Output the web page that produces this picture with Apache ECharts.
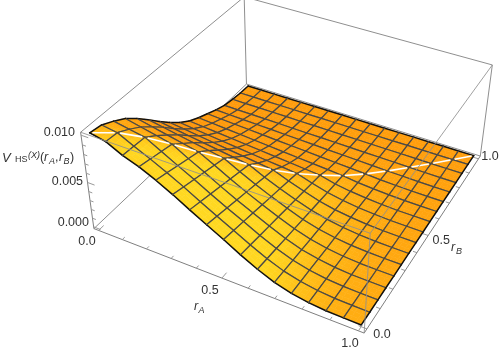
<!DOCTYPE html>
<html><head><meta charset="utf-8">
<style>html,body{margin:0;padding:0;background:#fff}#c{width:500px;height:352px}</style>
<script src="https://cdn.jsdelivr.net/npm/echarts@6/dist/echarts.min.js"></script>
</head><body><div id="c"></div>
<script>
// grid of the surface (rA, rB) and heights, in units of 1e-4
const rAValues = [0,0.0625,0.125,0.1875,0.25,0.3125,0.375,0.4375,0.5,0.5625,0.625,0.6875,0.75,0.8125,0.875,0.9375,1];
const rBValues = [0,0.0625,0.125,0.1875,0.25,0.3125,0.375,0.4375,0.5,0.5625,0.625,0.6875,0.75,0.8125,0.875,0.9375,1];
const heightRows = [
[101,99,93,86,76,65,53,42,32,24,18,13,8,4,2,.5,0],
[97.5,96.5,90,82.3,72.5,62,50.5,39.9,30.3,22.6,16.7,12,7.4,3.7,1.9,.5,0],
[89,88,87,78.7,69,59,48,37.7,28.5,21.1,15.5,11.1,6.8,3.4,1.7,.4,0],
[83,80.3,77.7,75,65.5,56,45.5,35.6,26.8,19.7,14.2,10.1,6.3,3.2,1.6,.4,0],
[75,71.8,68.5,65.3,62,53,43,33.4,25,18.2,13,9.2,5.7,2.9,1.5,.4,0],
[66,62.8,59.6,56.4,53.2,50,40.5,31.3,23.3,16.8,11.7,8.2,5.1,2.6,1.3,.3,0],
[56,53,50,47,44,41,38,29.1,21.5,15.3,10.4,7.3,4.5,2.3,1.2,.3,0],
[46.5,43.7,40.9,38.1,35.4,32.6,29.8,27,19.8,13.9,9.2,6.3,3.9,2.1,1.1,.3,0],
[37,34.6,32.3,29.9,27.5,25.1,22.8,20.4,18,12.4,7.9,5.4,3.3,1.8,.9,.2,0],
[27,25.2,23.4,21.7,19.9,18.1,16.3,14.6,12.8,11,6.7,4.4,2.8,1.5,.8,.2,0],
[18,16.7,15.5,14.2,13,11.7,10.4,9.2,7.9,6.7,5.4,3.5,2.2,1.2,.6,.2,0],
[10.5,9.8,9,8.3,7.6,6.9,6.2,5.4,4.7,4,3.2,2.5,1.6,.95,.5,.1,0],
[5.4,5.1,4.7,4.4,4,3.7,3.2,3,2.6,2.3,1.9,1.4,1,.7,.4,.1,0],
[2.3,2.2,2,1.9,1.7,1.6,1.4,1.3,1.2,1,.9,.7,.6,.4,.2,.1,0],
[.7,.65,.6,.55,.5,.5,.45,.4,.35,.3,.25,.2,.15,.15,.1,.05,0],
[.2,.19,.17,.16,.15,.13,.12,.11,.09,.08,.07,.05,.04,.03,.01,0,0],
[0,0,0,0,0,0,0,0,0,0,0,0,0,0,0,0,0]
];
const rATicks = [0,0.1,0.2,0.3,0.4,0.5,0.6,0.7,0.8,0.9,1];
const rBTicks = [0,0.1,0.2,0.3,0.4,0.5,0.6,0.7,0.8,0.9,1];
const zTicks = [0,0.001,0.002,0.003,0.004,0.005,0.006,0.007,0.008,0.009,0.01];
const rALabels = [[0,'0.0'],[0.5,'0.5'],[1,'1.0']];
const rBLabels = [[0,'0.0'],[0.5,'0.5'],[1,'1.0']];
const zLabels = [[0,'0.000'],[0.005,'0.005'],[0.01,'0.010']];
const rALabelOffsets=[[-11.6,11.6],[-12,12],[-8.5,13]];
const rBLabelOffsets=[[15,5.5],[13,5.5],[11.5,-1.8]];
const zLabelOffsets=[[-4.7,-3.9],[-4.5,-1],[-6,-2.2]];

// plot box range and view transform (homogeneous camera)
const R_MIN=-0.02,R_MAX=1.02,Z_MIN=-0.0002,Z_MAX=0.0103,Z_UNIT=1e-4;
const CAM={x:[233.9,203.2,-18.5,93.9],y:[71.2,-127.3,-104.9,228.6],w:[-0.0999,0.2055,-0.0646,1]};
const nr=v=>(v-R_MIN)/(R_MAX-R_MIN), nz=v=>(v-Z_MIN)/(Z_MAX-Z_MIN);
function projBox(a,b,c){
  const d=(m)=>m[0]*a+m[1]*b+m[2]*c+m[3];
  const w=d(CAM.w);return [d(CAM.x)/w,d(CAM.y)/w,w];
}
const proj=(ra,rb,z)=>projBox(nr(ra),nr(rb),nz(z));
const N=rAValues.length-1;
const Z=(i,j)=>heightRows[i][j]*Z_UNIT;
const vert=(i,j)=>proj(rAValues[i],rBValues[j],Z(i,j));

function vertexColor(i,j){
  const i0=Math.max(i-1,0),i1=Math.min(i+1,N),j0=Math.max(j-1,0),j1=Math.min(j+1,N);
  const sa=-(nz(Z(i1,j))-nz(Z(i0,j)))/(nr(rAValues[i1])-nr(rAValues[i0]));
  const sb=-(nz(Z(i,j1))-nz(Z(i,j0)))/(nr(rBValues[j1])-nr(rBValues[j0]));
  const G=Math.min(216,Math.max(122,158+14*(1-j/N)+40*sa-20*sb));
  const R=Math.min(255,246+(G-130)*0.35);
  const B=10+Math.max(0,G-150)*0.35;
  return [R,G,B];
}
const cells=[];
for(let i=0;i<N;i++)for(let j=0;j<N;j++){
  const w=(vert(i,j)[2]+vert(i+1,j)[2]+vert(i,j+1)[2]+vert(i+1,j+1)[2])/4;
  cells.push({i,j,w});
}
cells.sort((p,q)=>q.w-p.w);
const cellData=cells.map(c=>[c.i,c.j]);

const mix=(p,q,r,s,u,v)=>[0,1,2].map(k=>(1-u)*(1-v)*p[k]+u*(1-v)*q[k]+(1-u)*v*r[k]+u*v*s[k]);
const SUB=3;
function renderCell(params,api){
  const c=cells[params.dataIndex],i=c.i,j=c.j;
  const P=vert(i,j),Q=vert(i+1,j),R=vert(i,j+1),S=vert(i+1,j+1);
  const cP=vertexColor(i,j),cQ=vertexColor(i+1,j),cR=vertexColor(i,j+1),cS=vertexColor(i+1,j+1);
  const at=(u,v)=>{const m=mix(P,Q,R,S,u,v);return api.coord([m[0],m[1]]);};
  const kids=[];
  for(let a=0;a<SUB;a++)for(let b=0;b<SUB;b++){
    const col=mix(cP,cQ,cR,cS,(a+.5)/SUB,(b+.5)/SUB);
    const f=`rgb(${col[0]|0},${col[1]|0},${col[2]|0})`;
    kids.push({type:'polygon',shape:{points:[at(a/SUB,b/SUB),at((a+1)/SUB,b/SUB),at((a+1)/SUB,(b+1)/SUB),at(a/SUB,(b+1)/SUB)]},
      style:{fill:f,stroke:f,lineWidth:0.6}});
  }
  const edge=(A,B,onEdge)=>kids.push({type:'line',shape:{x1:api.coord(A)[0],y1:api.coord(A)[1],x2:api.coord(B)[0],y2:api.coord(B)[1]},
    style:{stroke:onEdge?'#111':'#484848',lineWidth:onEdge?1.5:1.2,lineCap:'round'}});
  edge(P,Q,j===0);edge(R,S,j+1===N);edge(P,R,i===0);edge(Q,S,i+1===N);
  return {type:'group',children:kids};
}
function segStyle(s){return {stroke:s.c||'#8f8f8f',lineWidth:s.lw||1,opacity:s.o==null?1:s.o};}
const lineRender=(list)=>(params,api)=>{
  const s=list[params.dataIndex];const A=api.coord(s.a),B=api.coord(s.b);
  return {type:'line',shape:{x1:A[0],y1:A[1],x2:B[0],y2:B[1]},style:segStyle(s)};
};
const bx=(a,b,c)=>projBox(a,b,c);
const backLines=[
 {a:bx(0,0,0),b:bx(0,1,0)},{a:bx(0,1,0),b:bx(1,1,0)},{a:bx(0,1,0),b:bx(0,1,1)}
];
const frontLines=[
 {a:bx(0,0,0),b:bx(1,0,0),c:'#7f7f7f'},{a:bx(1,0,0),b:bx(1,1,0),c:'#7f7f7f'},{a:bx(0,0,0),b:bx(0,0,1),c:'#7f7f7f'},
 {a:bx(0,0,1),b:bx(1,0,1),o:.85},{a:bx(1,0,1),b:bx(1,1,1),o:.85},{a:bx(1,0,0),b:bx(1,0,1),o:.85},
 {a:bx(0,0,1),b:bx(0,1,1)},{a:bx(0,1,1),b:bx(1,1,1)},{a:bx(1,1,0),b:bx(1,1,1)}
];
rATicks.forEach((t,k)=>{const L=k%5===0?.028:.014;frontLines.push({a:bx(nr(t),0,0),b:bx(nr(t),L,0),c:'#9a9a9a'});});
rBTicks.forEach((t,k)=>{const L=k%5===0?.028:.014;backLines.push({a:bx(1,nr(t),0),b:bx(1-L,nr(t),0),c:'#9a9a9a'});});
zTicks.forEach((t,k)=>{const L=k%5===0?.028:.014;frontLines.push({a:bx(0,0,nz(t)),b:bx(L,0,nz(t)),c:'#9a9a9a'});});
const whiteSegs=[];
for(let i=0;i<N;i++){
  const A=vert(i,i),B=vert(i+1,i+1);
  const g=.1;
  whiteSegs.push({a:[A[0]+(B[0]-A[0])*g,A[1]+(B[1]-A[1])*g],b:[A[0]+(B[0]-A[0])*(1-g),A[1]+(B[1]-A[1])*(1-g)],c:'#fff',lw:1.6});
}
const TXT={fontFamily:'"Liberation Sans",Arial,sans-serif',fontSize:12.5,fill:'#333'};
const texts=[];
rALabels.forEach((l,k)=>{const p=proj(l[0],R_MIN,Z_MIN),o=rALabelOffsets[k];texts.push({p:[p[0]+o[0],p[1]+o[1]],t:l[1],al:'center'});});
rBLabels.forEach((l,k)=>{const p=proj(R_MAX,l[0],Z_MIN),o=rBLabelOffsets[k];texts.push({p:[p[0]+o[0],p[1]+o[1]],t:l[1],al:'center'});});
zLabels.forEach((l,k)=>{const p=proj(R_MIN,R_MIN,l[0]),o=zLabelOffsets[k];texts.push({p:[p[0]+o[0],p[1]+o[1]],t:l[1],al:'right'});});
const IT={fontStyle:'italic'};
const rAT=[199,308],rBT=[457,250];
texts.push({p:[rAT[0]-3,rAT[1]-1],t:'r',al:'center',st:IT},{p:[rAT[0]+2.5,rAT[1]+2],t:'A',al:'center',st:{fontStyle:'italic',fontSize:9}});
texts.push({p:[rBT[0]-4,rBT[1]-2],t:'r',al:'center',st:IT},{p:[rBT[0]+2,rBT[1]+1],t:'B',al:'center',st:{fontStyle:'italic',fontSize:9}});
texts.push({p:[2,158],t:'V',al:'left',st:{fontStyle:'italic',fontSize:13}},
 {p:[15,160],t:'HS',al:'left',st:{fontSize:9}},
 {p:[28,155],t:'(X)',al:'left',st:{fontStyle:'italic',fontSize:9}},
 {p:[40,158],t:'(',al:'left'},{p:[44,158],t:'r',al:'left',st:IT},{p:[49,161],t:'A',al:'left',st:{fontStyle:'italic',fontSize:9}},
 {p:[55,158],t:',',al:'left'},{p:[59,158],t:'r',al:'left',st:IT},{p:[63.5,161],t:'B',al:'left',st:{fontStyle:'italic',fontSize:9}},
 {p:[70,158],t:')',al:'left'});
function renderText(params,api){
  const s=texts[params.dataIndex],p=api.coord(s.p);
  return {type:'text',x:p[0],y:p[1],style:Object.assign({},TXT,{text:s.t,textAlign:s.al,textVerticalAlign:'middle'},s.st||{})};
}
const idx=l=>l.map((_,k)=>[k]);
const base={type:'custom',coordinateSystem:'cartesian2d',clip:false,silent:true,animation:false,encode:{x:[],y:[]}};
const chart=echarts.init(document.getElementById('c'),null,{renderer:'canvas'});
chart.setOption({
  animation:false,backgroundColor:'#fff',tooltip:{show:false},
  grid:{left:0,right:0,top:0,bottom:0},
  xAxis:{type:'value',min:0,max:500,show:false},
  yAxis:{type:'value',min:0,max:352,inverse:true,show:false},
  series:[
    Object.assign({},base,{z:1,data:idx(backLines),renderItem:lineRender(backLines)}),
    Object.assign({},base,{z:2,data:cellData,renderItem:renderCell}),
    Object.assign({},base,{z:3,data:idx(whiteSegs),renderItem:lineRender(whiteSegs)}),
    Object.assign({},base,{z:4,data:idx(frontLines),renderItem:lineRender(frontLines)}),
    Object.assign({},base,{z:5,data:idx(texts),renderItem:renderText})
  ]
});
</script></body></html>
